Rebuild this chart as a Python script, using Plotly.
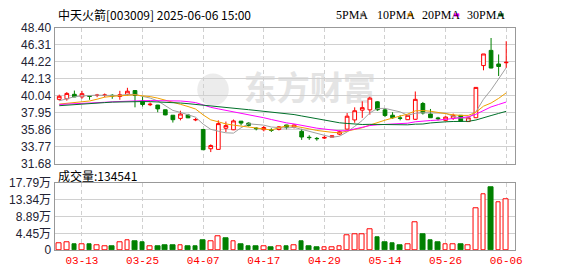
import plotly.graph_objects as go

# ---------------- data ----------------
dates = ["03-10", "03-11", "03-12", "03-13", "03-14", "03-17", "03-18", "03-19", "03-20", "03-21",
         "03-24", "03-25", "03-26", "03-27", "03-28", "03-31", "04-01", "04-02", "04-03", "04-07",
         "04-08", "04-09", "04-10", "04-11", "04-14", "04-15", "04-16", "04-17", "04-18", "04-21",
         "04-22", "04-23", "04-24", "04-25", "04-28", "04-29", "04-30", "05-06", "05-07", "05-08",
         "05-09", "05-12", "05-13", "05-14", "05-15", "05-16", "05-19", "05-20", "05-21", "05-22",
         "05-23", "05-26", "05-27", "05-28", "05-29", "05-30", "06-03", "06-04", "06-05", "06-06"]

opens = [39.58, 39.65, 40.20, 39.88, 40.03, 40.05, 40.05, 40.08, 39.93, 40.20,
         40.66, 39.38, 38.92, 38.88, 38.30, 37.63, 37.24, 37.66, 37.05, 35.88,
         33.51, 33.43, 36.03, 35.84, 36.90, 36.66, 36.05, 35.85, 35.82, 35.88,
         36.43, 36.15, 35.65, 34.92, 34.78, 34.82, 34.93, 35.30, 35.92, 37.05,
         38.25, 38.29, 39.28, 38.29, 37.63, 37.30, 37.08, 37.13, 39.07, 37.78,
         37.30, 37.00, 37.27, 37.62, 36.85, 37.32, 43.73, 45.60, 43.93, 44.08]
highs = [40.16, 40.47, 40.66, 40.63, 40.06, 40.25, 40.30, 40.22, 40.63, 41.00,
         40.70, 39.95, 39.20, 38.90, 38.32, 37.65, 38.18, 37.80, 37.30, 35.90,
         34.05, 37.00, 36.85, 37.10, 36.92, 36.75, 36.15, 36.30, 36.03, 36.30,
         36.45, 36.50, 35.96, 35.17, 34.95, 35.10, 35.15, 35.75, 37.90, 38.60,
         39.34, 39.90, 39.35, 38.50, 38.00, 37.63, 37.65, 40.55, 39.26, 38.40,
         37.43, 37.50, 37.83, 37.65, 37.45, 41.05, 45.16, 47.12, 45.10, 46.73]
lows = [39.42, 39.42, 39.86, 39.65, 39.53, 39.85, 39.85, 39.65, 39.53, 40.05,
        38.60, 38.70, 38.75, 38.00, 37.62, 36.73, 37.00, 37.28, 36.90, 33.39,
        33.10, 33.40, 35.57, 35.80, 36.38, 36.25, 35.77, 35.65, 35.57, 35.76,
        35.90, 36.00, 34.60, 34.60, 34.50, 34.70, 34.90, 35.17, 35.90, 36.70,
        37.30, 37.70, 38.17, 37.40, 37.20, 37.00, 37.05, 37.05, 37.71, 37.30,
        37.00, 36.92, 37.05, 36.85, 36.80, 37.30, 43.15, 43.40, 42.45, 43.43]
closes = [39.96, 40.31, 39.88, 40.28, 39.95, 40.10, 40.12, 40.00, 40.15, 40.58,
          40.05, 38.95, 38.98, 38.41, 37.67, 37.08, 37.78, 37.31, 37.10, 33.39,
          33.90, 36.60, 36.35, 36.93, 36.66, 36.38, 35.98, 36.12, 35.78, 36.20,
          36.15, 36.43, 34.95, 34.88, 34.75, 34.90, 35.10, 35.60, 37.51, 38.18,
          38.56, 39.73, 38.30, 37.60, 37.32, 37.25, 37.62, 39.58, 37.90, 37.32,
          37.20, 37.40, 37.62, 36.87, 37.32, 41.05, 45.16, 43.43, 43.62, 44.13]

volumes = [18000, 19700, 16200, 16200, 16200, 12900, 10300, 11100, 19700, 24900,
           23100, 20600, 10300, 11100, 13700, 13700, 12900, 11100, 11100, 25700,
           22300, 36000, 30800, 22300, 16200, 10300, 10300, 10300, 8600, 10300,
           11100, 12900, 24000, 10300, 8600, 8600, 8600, 10300, 38600, 41100,
           42800, 56600, 34300, 21400, 18000, 13700, 15400, 73700, 41100, 25700,
           20600, 15400, 15400, 15400, 12900, 111300, 148300, 167000, 128500, 134541]

ma5 = [39.40, 39.65, 39.90, 40.00, 40.08, 40.10, 40.07, 40.09, 40.06, 40.19,
       40.18, 39.95, 39.74, 39.39, 38.81, 38.22, 37.98, 37.65, 37.39, 36.53,
       35.90, 35.66, 35.47, 35.43, 36.09, 36.58, 36.46, 36.41, 36.18, 36.09,
       36.05, 36.14, 35.90, 35.72, 35.43, 35.18, 34.92, 35.05, 35.57, 36.26,
       36.99, 37.92, 38.46, 38.47, 38.30, 38.04, 37.62, 37.87, 37.93, 37.93,
       37.92, 37.88, 37.49, 37.28, 37.28, 38.05, 39.59, 40.75, 42.10, 43.47]
ma10 = [39.00, 39.08, 39.18, 39.28, 39.38, 39.60, 39.85, 39.95, 40.04, 40.13,
        40.14, 40.01, 39.92, 39.73, 39.50, 39.20, 38.97, 38.70, 38.39, 37.67,
        37.06, 36.82, 36.56, 36.41, 36.31, 36.24, 36.06, 35.94, 35.81, 36.09,
        36.32, 36.30, 36.16, 35.95, 35.76, 35.61, 35.53, 35.47, 35.65, 35.85,
        36.09, 36.42, 36.75, 37.02, 37.28, 37.52, 37.77, 38.17, 38.20, 38.12,
        37.98, 37.75, 37.68, 37.61, 37.61, 37.99, 38.74, 39.13, 39.70, 40.38]
ma20 = [38.95, 38.98, 39.03, 39.06, 39.12, 39.18, 39.22, 39.28, 39.33, 39.36,
        39.40, 39.42, 39.43, 39.43, 39.43, 39.42, 39.38, 39.30, 39.18, 38.90,
        38.60, 38.41, 38.24, 38.07, 37.91, 37.72, 37.51, 37.32, 37.10, 36.88,
        36.69, 36.56, 36.36, 36.18, 36.04, 35.93, 35.79, 35.71, 35.73, 35.97,
        36.20, 36.36, 36.45, 36.49, 36.52, 36.56, 36.65, 36.82, 36.93, 36.98,
        37.03, 37.08, 37.22, 37.32, 37.44, 37.75, 38.25, 38.65, 38.95, 39.25]
ma30 = [38.80, 38.85, 38.90, 38.98, 39.05, 39.12, 39.18, 39.24, 39.28, 39.30,
        39.31, 39.31, 39.30, 39.28, 39.25, 39.20, 39.13, 39.05, 38.97, 38.88,
        38.78, 38.70, 38.60, 38.50, 38.40, 38.31, 38.22, 38.13, 38.05, 37.97,
        37.84, 37.71, 37.54, 37.36, 37.19, 37.02, 36.85, 36.70, 36.62, 36.54,
        36.49, 36.51, 36.49, 36.46, 36.45, 36.46, 36.45, 36.53, 36.55, 36.68,
        36.79, 36.82, 36.86, 36.86, 36.88, 37.04, 37.35, 37.59, 37.85, 38.11]

price_ticks = [31.68, 33.77, 35.86, 37.95, 40.04, 42.13, 44.22, 46.31, 48.40]
vol_ticks = [0, 44500, 88900, 133400, 177900]
vol_tick_text = ["0", "4.45万", "8.89万", "13.34万", "17.79万"]
label_dates = ["03-13", "03-25", "04-07", "04-17", "04-29", "05-14", "05-26", "06-06"]

title_text = "中天火箭[003009] 2025-06-06 15:00"
ma_names = ["5PMA", "10PMA", "20PMA", "30PMA"]
ma_colors = ["#a0a0a0", "#f0a000", "#ff00ff", "#00702a"]
last_volume = volumes[-1]

# ---------------- figure ----------------
W, H = 578, 276
PX_L, PX_R = 55.3, 522.0
P_TOP, P_BOT = 21.7, 165.0
V_TOP, V_BOT = 185.7, 256.0

def px(x):
    return x / W

def py(y):
    return 1 - y / H

x = list(range(len(dates)))
RED = "#ff0000"
GREEN = "#008000"

fig = go.Figure()

fig.add_trace(go.Candlestick(
    x=x, open=opens, high=highs, low=lows, close=closes,
    increasing=dict(line=dict(color=RED, width=1), fillcolor="#ffffff"),
    decreasing=dict(line=dict(color=GREEN, width=1), fillcolor=GREEN),
    whiskerwidth=0, xaxis="x", yaxis="y", showlegend=False, hoverinfo="skip"))

for vals, col in zip([ma5, ma10, ma20, ma30], ma_colors):
    fig.add_trace(go.Scatter(x=x, y=vals, mode="lines", line=dict(color=col, width=1),
                             xaxis="x", yaxis="y", showlegend=False, hoverinfo="skip"))

line_cols = [RED if i == 0 or closes[i] >= closes[i - 1] else GREEN for i in x]
fill_cols = ["#ffffff" if c == RED else GREEN for c in line_cols]
fig.add_trace(go.Bar(x=x, y=volumes, width=0.62,
                     marker=dict(color=fill_cols, line=dict(color=line_cols, width=1)),
                     xaxis="x2", yaxis="y2", showlegend=False, hoverinfo="skip"))

label_idx = [dates.index(d) for d in label_dates]
xr = [-0.62, 60.13]
grid_col = "#d0d0d0"
frame_col = "#999999"

common_x = dict(domain=[px(PX_L), px(PX_R)], range=xr, tickvals=label_idx,
                showgrid=True, gridcolor=grid_col, griddash="4px,3px", gridwidth=1,
                showline=True, mirror=True, linecolor=frame_col, linewidth=1,
                zeroline=False, ticks="", fixedrange=True)

fig.update_layout(
    width=W, height=H, margin=dict(l=0, r=0, t=0, b=0),
    paper_bgcolor="#ffffff", plot_bgcolor="#ffffff",
    showlegend=False, bargap=0,
    xaxis=dict(**common_x, anchor="y", showticklabels=False, rangeslider=dict(visible=False)),
    xaxis2=dict(**common_x, anchor="y2", ticktext=label_dates, showticklabels=True,
                tickfont=dict(family="Liberation Mono", size=11, color=RED)),
    yaxis=dict(domain=[py(P_BOT), py(P_TOP)], range=[price_ticks[0], price_ticks[-1]],
               tickvals=price_ticks, ticktext=["%.2f" % v for v in price_ticks],
               showgrid=True, gridcolor=grid_col, gridwidth=1, zeroline=False,
               showline=True, mirror=True, linecolor=frame_col, linewidth=1, ticks="",
               tickfont=dict(family="Liberation Sans", size=12, color="#222233"),
               anchor="x", fixedrange=True),
    yaxis2=dict(domain=[py(V_BOT), py(V_TOP)], range=[vol_ticks[0], vol_ticks[-1]],
                tickvals=vol_ticks, ticktext=vol_tick_text,
                showgrid=True, gridcolor=grid_col, gridwidth=1, zeroline=False,
                showline=True, mirror=True, linecolor=frame_col, linewidth=1, ticks="",
                tickfont=dict(family="Liberation Sans, Noto Sans CJK SC", size=12, color="#222233"),
                anchor="x2", fixedrange=True),
)

annotations = [
    dict(text=title_text, x=px(57), y=py(8), xref="paper", yref="paper",
         xanchor="left", yanchor="middle", showarrow=False,
         font=dict(family="Noto Sans CJK SC", size=12, color="#000000")),
    dict(text="成交量:%d" % last_volume, x=px(57), y=py(177), xref="paper", yref="paper",
         xanchor="left", yanchor="middle", showarrow=False,
         font=dict(family="Noto Sans CJK SC", size=12, color="#000000")),
]
legend_text_x = [339, 380.7, 426, 471.7]
legend_sq_x = [365.3, 413.3, 460.3, 505.3]
shapes = []
for name, col, tx, sx in zip(ma_names, ma_colors, legend_text_x, legend_sq_x):
    annotations.append(dict(text=name, x=px(tx), y=py(8.5), xref="paper", yref="paper",
                            xanchor="left", yanchor="middle", showarrow=False,
                            font=dict(family="Liberation Serif", size=12, color="#000000")))
    shapes.append(dict(type="rect", xref="paper", yref="paper",
                       x0=px(sx), x1=px(sx + 5.4), y0=py(10), y1=py(6.7),
                       line=dict(width=0), fillcolor=col))

# watermark (below traces)
shapes.append(dict(type="rect", xref="paper", yref="paper", layer="below",
                   x0=px(236), x1=px(392), y0=py(104), y1=py(72),
                   line=dict(width=0), fillcolor="rgba(0,0,0,0)",
                   label=dict(text="<b>东方财富</b>", textposition="middle center",
                              font=dict(family="Noto Sans CJK SC", size=33, color="#e4e4e4"))))
shapes.append(dict(type="circle", xref="paper", yref="paper", layer="below",
                   x0=px(200), x1=px(232), y0=py(104), y1=py(70),
                   line=dict(width=0), fillcolor="#ececec"))

fig.update_layout(annotations=annotations, shapes=shapes)

fig.write_html("out.html")
